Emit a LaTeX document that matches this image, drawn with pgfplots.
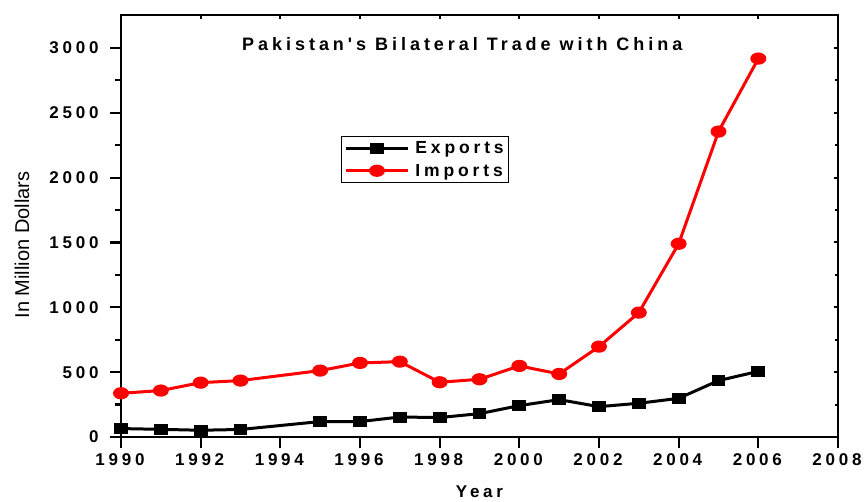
\documentclass[border=0pt]{standalone}
\usepackage{pgfplots}
\pgfplotsset{compat=1.18}
\usepackage{fontspec}
\setmainfont{Liberation Sans}
\newfontfamily\spb[LetterSpace=22]{Liberation Sans}
\begin{document}
\begin{tikzpicture}
\useasboundingbox (0,0) rectangle (865pt,502pt);
\pgfplotsset{
  common/.style={
    at={(121pt,65pt)}, anchor=south west,
    scale only axis, width=717pt, height=422pt,
    xmin=1990, xmax=2008, ymin=0, ymax=3254,
    xtick={1990,1992,...,2008}, ytick={0,500,...,3000},
    minor x tick num=1, minor y tick num=1,
    axis line style={line width=2.6pt},
    /pgf/number format/1000 sep={},
    /pgf/number format/assume math mode=true,
  }
}
% mirror ticks (top/right, inside)
\begin{axis}[common,
  xtick pos=right, ytick pos=right, tick align=inside,
  major tick length=4pt, minor tick length=3pt,
  tick style={line width=2pt, black},
  xticklabels={}, yticklabels={},
]
\end{axis}
\begin{axis}[common,
  xtick pos=left, ytick pos=left, tick align=outside,
  major tick length=11pt, minor tick length=6pt,
  tick style={line width=2.2pt, black},
  tick label style={font=\spb\bfseries\fontsize{17}{17}\selectfont},
  xticklabel style={yshift=-2pt, xshift=-1pt},
  yticklabel style={xshift=-8pt},
  xlabel={Year}, ylabel={In Million Dollars},
  xlabel style={at={(axis description cs:0.5,-0.13)}, anchor=center, font=\spb\bfseries\fontsize{17}{17}\selectfont},
  ylabel style={at={(axis description cs:-0.138,0.455)}, anchor=center, font=\fontsize{20}{20}\selectfont},
  title={Pakistan's Bilateral Trade with China},
  title style={at={(axis description cs:0.476,0.918)}, anchor=center, font=\spb\bfseries\fontsize{18}{18}\selectfont},
  legend style={at={(axis description cs:0.307,0.713)}, anchor=north west, draw=black, line width=0.7pt,
    font=\spb\bfseries\fontsize{17.5}{17.5}\selectfont, inner xsep=3pt, inner ysep=3pt, row sep=5pt, column sep=4pt},
  legend cell align=left,
  legend image code/.code={\draw[mark repeat=2,mark phase=2,#1] plot coordinates {(0pt,0pt)(31pt,0pt)(62pt,0pt)};},
]
\addplot[black, line width=3pt, mark=square*, mark size=4pt, mark options={xscale=1.35, solid}] coordinates {
(1990,65) (1991,59) (1992,52) (1993,58) (1995,119) (1996,119) (1997,154) (1998,150)
(1999,180) (2000,242) (2001,288) (2002,234) (2003,260) (2004,298) (2005,435) (2006,506)
};
\addlegendentry{Exports}
\addplot[red, line width=3pt, mark=*, mark size=4.6pt, mark options={xscale=1.4, solid}] coordinates {
(1990,337) (1991,358) (1992,419) (1993,435) (1995,512) (1996,571) (1997,581) (1998,422)
(1999,445) (2000,548) (2001,486) (2002,697) (2003,959) (2004,1490) (2005,2355) (2006,2918)
};
\addlegendentry{Imports}
\end{axis}
\end{tikzpicture}
\end{document}
